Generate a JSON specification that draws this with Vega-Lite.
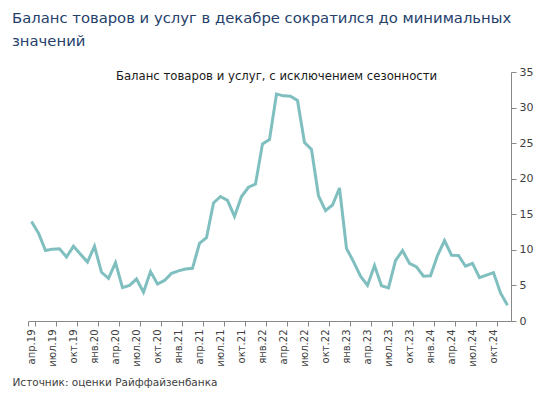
{
  "$schema": "https://vega.github.io/schema/vega-lite/v6.json",
  "width": 483,
  "height": 249,
  "autosize": {"type": "none"},
  "padding": {"left": 28, "top": 72, "right": 45, "bottom": 77},
  "background": "white",
  "config": {
    "view": {"stroke": null},
    "font": "DejaVu Sans"
  },
  "title": {
    "text": ["Баланс товаров и услуг в декабре сократился до минимальных", "значений"],
    "anchor": "start",
    "frame": "group",
    "dx": -16,
    "offset": 17,
    "fontSize": 14.8,
    "fontWeight": "normal",
    "color": "#24406b",
    "lineHeight": 23,
    "font": "DejaVu Sans"
  },
  "data": {
    "values": [
      {"m": "апр.19", "v": 14.0},
      {"m": "май.19", "v": 12.35},
      {"m": "июн.19", "v": 9.9},
      {"m": "июл.19", "v": 10.1},
      {"m": "авг.19", "v": 10.15},
      {"m": "сен.19", "v": 9.0},
      {"m": "окт.19", "v": 10.5},
      {"m": "ноя.19", "v": 9.4},
      {"m": "дек.19", "v": 8.3},
      {"m": "янв.20", "v": 10.5},
      {"m": "фев.20", "v": 6.85},
      {"m": "мар.20", "v": 6.0},
      {"m": "апр.20", "v": 8.2},
      {"m": "май.20", "v": 4.7},
      {"m": "июн.20", "v": 5.0},
      {"m": "июл.20", "v": 5.9},
      {"m": "авг.20", "v": 4.05},
      {"m": "сен.20", "v": 6.95},
      {"m": "окт.20", "v": 5.2},
      {"m": "ноя.20", "v": 5.7},
      {"m": "дек.20", "v": 6.7},
      {"m": "янв.21", "v": 7.05},
      {"m": "фев.21", "v": 7.3},
      {"m": "мар.21", "v": 7.4},
      {"m": "апр.21", "v": 10.9},
      {"m": "май.21", "v": 11.7},
      {"m": "июн.21", "v": 16.6},
      {"m": "июл.21", "v": 17.5},
      {"m": "авг.21", "v": 16.95},
      {"m": "сен.21", "v": 14.7},
      {"m": "окт.21", "v": 17.5},
      {"m": "ноя.21", "v": 18.8},
      {"m": "дек.21", "v": 19.25},
      {"m": "янв.22", "v": 24.9},
      {"m": "фев.22", "v": 25.5},
      {"m": "мар.22", "v": 31.9},
      {"m": "апр.22", "v": 31.65},
      {"m": "май.22", "v": 31.6},
      {"m": "июн.22", "v": 31.0},
      {"m": "июл.22", "v": 25.1},
      {"m": "авг.22", "v": 24.1},
      {"m": "сен.22", "v": 17.6},
      {"m": "окт.22", "v": 15.5},
      {"m": "ноя.22", "v": 16.3},
      {"m": "дек.22", "v": 18.7},
      {"m": "янв.23", "v": 10.2},
      {"m": "фев.23", "v": 8.35},
      {"m": "мар.23", "v": 6.3},
      {"m": "апр.23", "v": 5.0},
      {"m": "май.23", "v": 7.8},
      {"m": "июн.23", "v": 4.95},
      {"m": "июл.23", "v": 4.65},
      {"m": "авг.23", "v": 8.5},
      {"m": "сен.23", "v": 9.9},
      {"m": "окт.23", "v": 8.1},
      {"m": "ноя.23", "v": 7.6},
      {"m": "дек.23", "v": 6.3},
      {"m": "янв.24", "v": 6.35},
      {"m": "фев.24", "v": 9.2},
      {"m": "мар.24", "v": 11.3},
      {"m": "апр.24", "v": 9.25},
      {"m": "май.24", "v": 9.2},
      {"m": "июн.24", "v": 7.7},
      {"m": "июл.24", "v": 8.1},
      {"m": "авг.24", "v": 6.1},
      {"m": "сен.24", "v": 6.45},
      {"m": "окт.24", "v": 6.8},
      {"m": "ноя.24", "v": 3.95},
      {"m": "дек.24", "v": 2.2}
    ]
  },
  "mark": {"type": "line", "color": "#80bfbf", "strokeWidth": 3, "strokeJoin": "miter"},
  "encoding": {
    "x": {
      "field": "m",
      "type": "ordinal",
      "sort": null,
      "scale": {"type": "band", "paddingInner": 0, "paddingOuter": 0},
      "axis": {
        "values": ["апр.19", "июл.19", "окт.19", "янв.20", "апр.20", "июл.20", "окт.20", "янв.21", "апр.21", "июл.21", "окт.21", "янв.22", "апр.22", "июл.22", "окт.22", "янв.23", "апр.23", "июл.23", "окт.23", "янв.24", "апр.24", "июл.24", "окт.24"],
        "tickBand": "extent",
        "labelAngle": -90,
        "labelFontSize": 10,
        "labelColor": "#404040",
        "labelPadding": 3,
        "tickSize": 5,
        "tickColor": "#888888",
        "domainColor": "#888888",
        "grid": false,
        "title": "Источник: оценки Райффайзенбанка",
        "titleX": -16,
        "titleY": 61,
        "titleAlign": "left",
        "titleAnchor": "start",
        "titleBaseline": "middle",
        "titleFontSize": 10.5,
        "titleFontWeight": "normal",
        "titleColor": "#404040"
      }
    },
    "y": {
      "field": "v",
      "type": "quantitative",
      "scale": {"domain": [0, 35], "nice": false},
      "axis": {
        "orient": "right",
        "values": [0, 5, 10, 15, 20, 25, 30, 35],
        "grid": false,
        "tickSize": 5,
        "tickColor": "#888888",
        "domainColor": "#888888",
        "labelFontSize": 11,
        "labelColor": "#404040",
        "labelPadding": 3,
        "title": "Баланс товаров и услуг, с исключением сезонности",
        "titleAngle": 0,
        "titleX": -235,
        "titleY": 3,
        "titleAlign": "center",
        "titleBaseline": "middle",
        "titleFontSize": 11.7,
        "titleFontWeight": "normal",
        "titleColor": "#1a1a1a"
      }
    }
  }
}
